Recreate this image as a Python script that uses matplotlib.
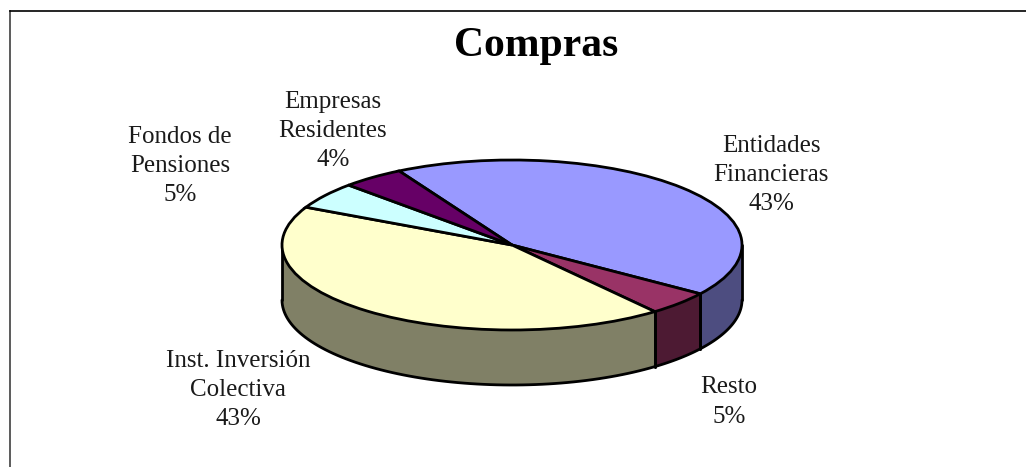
"""Compras: tilted pie with a drawn side wall."""

from __future__ import annotations

import matplotlib

matplotlib.use("Agg")
import matplotlib.pyplot as plt
import numpy as np

labels = ["Entidades\nFinancieras", "Resto", "Inst. Inversión\nColectiva", "Fondos de\nPensiones", "Empresas\nResidentes"]
shares = [42.9, 4.6, 43.0, 5.1, 4.4]
top_colors = ["#9999ff", "#993366", "#ffffcc", "#ccffff", "#660066"]
side_colors = ["#4d4d80", "#4d1a33", "#808066", "#668080", "#330033"]
label_px = [(771, 175), (729, 402), (238, 390), (180, 166), (333, 131)]

W, H = 1026, 467
CX, CY, RX, RY, DEPTH = 512, 245, 230, 85, 55
START = 119.4


def _side_wall(ax, a0: float, a1: float, color: str, depth: float) -> None:
    """Fill the wall under the arc a0..a1 (degrees), only where it faces front."""
    lo, hi = max(a0, -180.0), min(a1, 0.0)
    if hi <= lo:
        return
    t = np.radians(np.linspace(lo, hi, 80))
    x = np.cos(t)
    y = np.sin(t)
    ax.fill_between(x, y - depth, y, color=color, lw=0, zorder=1, clip_on=False)
    ax.plot(x, y - depth, color="black", lw=2, zorder=2, clip_on=False, solid_capstyle="round")
    for a in (lo, hi):
        r = np.radians(a)
        ax.plot([np.cos(r)] * 2, [np.sin(r) - depth, np.sin(r)], color="black", lw=2, zorder=2,
                clip_on=False, solid_capstyle="round")


def main() -> None:
    plt.rcParams["font.family"] = ["Liberation Serif", "DejaVu Serif"]
    fig = plt.figure(figsize=(W / 100, H / 100), dpi=100)

    bg = fig.add_axes([0, 0, 1, 1])
    bg.set_xlim(0, W)
    bg.set_ylim(H, 0)
    bg.axis("off")
    bg.plot([9.5, 9.5], [H, 11], color="#404040", lw=1.2)
    bg.plot([9.5, W], [11, 11], color="black", lw=1.2)
    bg.text(536, 46, "Compras", ha="center", va="center", fontsize=30, fontweight="bold", color="black")
    for lab, share, (px, py) in zip(labels, shares, label_px):
        bg.text(px, py, f"{lab}\n{share:.0f}%", ha="center", va="center", fontsize=18,
                linespacing=1.44, color="#1a1a1a")

    # pie axes covers the top ellipse, the wall hangs below it
    ax = fig.add_axes([(CX - RX) / W, 1 - (CY + RY) / H, 2 * RX / W, 2 * RY / H])
    ax.pie(
        shares,
        colors=top_colors,
        startangle=START,
        counterclock=False,
        radius=1,
        wedgeprops={"edgecolor": "black", "linewidth": 2, "zorder": 3},
    )
    ax.set_aspect("auto")
    ax.set_xlim(-1, 1)
    ax.set_ylim(-1, 1)
    for patch in ax.patches:
        patch.set_clip_on(False)

    edges = START - np.cumsum([0] + shares) * 3.6
    for i, color in enumerate(side_colors):
        # check the arc and its copy one turn down
        for turn in (0.0, -360.0):
            _side_wall(ax, edges[i + 1] + turn, edges[i] + turn, color, DEPTH / RY)

    fig.savefig("out.png", dpi=100)
    plt.close(fig)


if __name__ == "__main__":
    main()
